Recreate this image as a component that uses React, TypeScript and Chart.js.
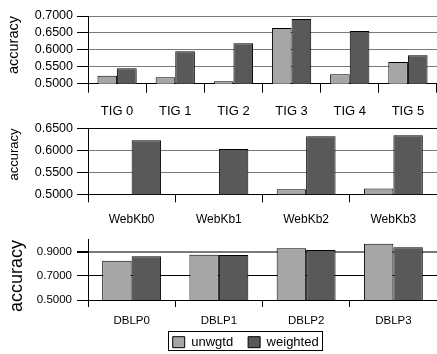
import React, { useEffect, useRef } from "react";
import { Chart, registerables } from "chart.js";

Chart.register(...registerables);

// ---------- data ----------
const SERIES_NAMES = ["unwgtd", "weighted"];

const TIG_CATEGORIES = ["TIG 0", "TIG 1", "TIG 2", "TIG 3", "TIG 4", "TIG 5"];
const TIG_UNWGTD = [0.5236, 0.5187, 0.5069, 0.6645, 0.5276, 0.564];
const TIG_WEIGHTED = [0.5453, 0.5956, 0.6192, 0.6911, 0.6557, 0.5837];
const TIG_TICKS = [0.5, 0.55, 0.6, 0.65, 0.7];

const WEBKB_CATEGORIES = ["WebKb0", "WebKb1", "WebKb2", "WebKb3"];
const WEBKB_UNWGTD = [0.5003, 0.5003, 0.5117, 0.5132];
const WEBKB_WEIGHTED = [0.623, 0.6032, 0.6325, 0.6347];
const WEBKB_TICKS = [0.5, 0.55, 0.6, 0.65];

const DBLP_CATEGORIES = ["DBLP0", "DBLP1", "DBLP2", "DBLP3"];
const DBLP_UNWGTD = [0.8265, 0.876, 0.93, 0.968];
const DBLP_WEIGHTED = [0.8646, 0.875, 0.9163, 0.938];
const DBLP_TICKS = [0.5, 0.7, 0.9];

// ---------- style ----------
const FONT = '"Liberation Sans", Arial, Helvetica, sans-serif';
const LIGHT = "#a6a6a6";
const DARK = "#595959";
const GREY_GRID = "#7a7a7a";

type GridFn = (v: number) => { color: string; width: number };

type Panel = {
  labels: string[];
  unw: number[];
  wtd: number[];
  ticks: number[];
  min: number;
  max: number;
  top: number;
  height: number;
  padTop: number;
  xAxisHeight: number;
  yFont: number;
  xFont: number;
  titleFont: number;
  titlePad: number;
  yPad: number;
  xTickLen: number;
  xPad: number;
  grid: GridFn;
  legend: boolean;
};

const LEGEND_LEFT = 157.7;
const LEGEND_TOP = 92.7;

const legendFramePlugin = {
  id: "legendFrame",
  afterLayout(chart: any) {
    const lg = chart.legend;
    if (!lg || !lg.options.display) return;
    const dx = LEGEND_LEFT - lg.left;
    lg.left += dx;
    lg.right += dx;
    const dy = LEGEND_TOP - lg.top;
    lg.top += dy;
    lg.bottom += dy;
  },
  afterDraw(chart: any) {
    const lg = chart.legend;
    if (!lg || !lg.options.display || !lg.lineWidths) return;
    const pad = lg.options.labels.padding;
    const fs = lg.options.labels.font.size;
    const bh = lg.options.labels.boxHeight;
    const itemH = Math.max(fs, bh);
    const l = lg.left + pad;
    const w = lg.lineWidths[0] - pad;
    const t = lg.top + pad;
    const ctx = chart.ctx;
    ctx.save();
    ctx.strokeStyle = "#000";
    ctx.lineWidth = 1;
    const x0 = Math.round(l - 4.5) + 0.5;
    const y0 = Math.round(t - 5) + 0.5;
    const x1 = Math.round(l + w + 3) + 0.5;
    const y1 = Math.round(t + itemH + 1.5) + 0.5;
    ctx.strokeRect(x0, y0, x1 - x0, y1 - y0);
    ctx.restore();
  },
};

function makeConfig(p: Panel): any {
  return {
    type: "bar",
    data: {
      labels: p.labels,
      datasets: [
        {
          label: SERIES_NAMES[0],
          data: p.unw,
          backgroundColor: LIGHT,
          borderColor: "#000",
          borderWidth: 1,
          categoryPercentage: 0.675,
          barPercentage: 1,
        },
        {
          label: SERIES_NAMES[1],
          data: p.wtd,
          backgroundColor: DARK,
          borderColor: "#000",
          borderWidth: 1,
          categoryPercentage: 0.675,
          barPercentage: 1,
        },
      ],
    },
    options: {
      animation: false,
      responsive: false,
      maintainAspectRatio: false,
      events: [],
      layout: { padding: { top: p.padTop, left: 0, right: 0, bottom: 0 } },
      plugins: {
        tooltip: { enabled: false },
        title: { display: false },
        legend: p.legend
          ? {
              display: true,
              position: "bottom",
              align: "start",
              labels: {
                color: "#000",
                boxWidth: 12,
                boxHeight: 11,
                padding: 15,
                font: { family: FONT, size: 13 },
              },
            }
          : { display: false },
      },
      scales: {
        x: {
          type: "category",
          offset: true,
          grid: {
            offset: true,
            drawOnChartArea: false,
            drawTicks: true,
            tickLength: p.xTickLen,
            color: "#000",
            tickColor: "#000",
            lineWidth: 1,
          },
          border: { display: true, color: "#000", width: 1 },
          ticks: {
            color: "#000",
            font: { family: FONT, size: p.xFont },
            padding: p.xPad,
            maxRotation: 0,
            autoSkip: false,
          },
          afterFit: (s: any) => {
            s.height = p.xAxisHeight;
          },
        },
        y: {
          min: p.min,
          max: p.max,
          afterBuildTicks: (s: any) => {
            s.ticks = p.ticks.map((v) => ({ value: v }));
          },
          grid: {
            color: (c: any) => (c.tick ? p.grid(c.tick.value).color : GREY_GRID),
            lineWidth: (c: any) => (c.tick ? p.grid(c.tick.value).width : 1),
            tickColor: "#000",
            tickLength: 11,
            drawTicks: true,
          },
          border: { display: true, color: "#000", width: 1 },
          ticks: {
            color: "#000",
            font: { family: FONT, size: p.yFont },
            padding: p.yPad,
            autoSkip: false,
            callback: (v: any) => Number(v).toFixed(4),
          },
          title: {
            display: true,
            text: "accuracy",
            color: "#000",
            align: "end",
            font: { family: FONT, size: p.titleFont },
            padding: { top: p.titlePad, bottom: 0 },
          },
          afterFit: (s: any) => {
            s.width = 88;
          },
        },
      },
    },
    plugins: p.legend ? [legendFramePlugin] : [],
  };
}

const PANELS: Panel[] = [
  {
    labels: TIG_CATEGORIES,
    unw: TIG_UNWGTD,
    wtd: TIG_WEIGHTED,
    ticks: TIG_TICKS,
    min: 0.5,
    max: 0.7,
    top: 0,
    height: 117,
    padTop: 16,
    xAxisHeight: 33.3,
    yFont: 12.5,
    xFont: 13,
    titleFont: 14.5,
    titlePad: 5.3,
    yPad: 4,
    xTickLen: 9,
    xPad: 10.5,
    grid: () => ({ color: GREY_GRID, width: 1 }),
    legend: false,
  },
  {
    labels: WEBKB_CATEGORIES,
    unw: WEBKB_UNWGTD,
    wtd: WEBKB_WEIGHTED,
    ticks: WEBKB_TICKS,
    min: 0.5,
    max: 0.65,
    top: 117,
    height: 111,
    padTop: 9,
    xAxisHeight: 33.7,
    yFont: 12.5,
    xFont: 12,
    titleFont: 13,
    titlePad: 6.2,
    yPad: 4,
    xTickLen: 8,
    xPad: 10,
    grid: (v) => (v > 0.64 ? { color: "#000", width: 1 } : { color: GREY_GRID, width: 1 }),
    legend: false,
  },
  {
    labels: DBLP_CATEGORIES,
    unw: DBLP_UNWGTD,
    wtd: DBLP_WEIGHTED,
    ticks: DBLP_TICKS,
    min: 0.5,
    max: 1.0,
    top: 228,
    height: 140,
    padTop: 10.7,
    xAxisHeight: 30,
    yFont: 11.5,
    xFont: 11.5,
    titleFont: 18,
    titlePad: 6.7,
    yPad: 5,
    xTickLen: 7,
    xPad: 6.8,
    grid: (v) => (v > 0.85 ? { color: GREY_GRID, width: 2 } : { color: "#000", width: 1 }),
    legend: true,
  },
];

function PanelChart({ panel }: { panel: Panel }) {
  const ref = useRef<HTMLCanvasElement | null>(null);
  useEffect(() => {
    if (!ref.current) return;
    const chart = new Chart(ref.current, makeConfig(panel));
    return () => chart.destroy();
  }, [panel]);
  return (
    <canvas
      ref={ref}
      width={437}
      height={panel.height}
      style={{
        position: "absolute",
        left: 0,
        top: panel.top,
        width: 437,
        height: panel.height,
        display: "block",
      }}
    />
  );
}

export default function App() {
  return (
    <div
      style={{
        position: "absolute",
        left: 0,
        top: 0,
        width: 437,
        height: 354,
        background: "#fff",
        overflow: "hidden",
      }}
    >
      {PANELS.map((p, i) => (
        <PanelChart key={i} panel={p} />
      ))}
    </div>
  );
}
